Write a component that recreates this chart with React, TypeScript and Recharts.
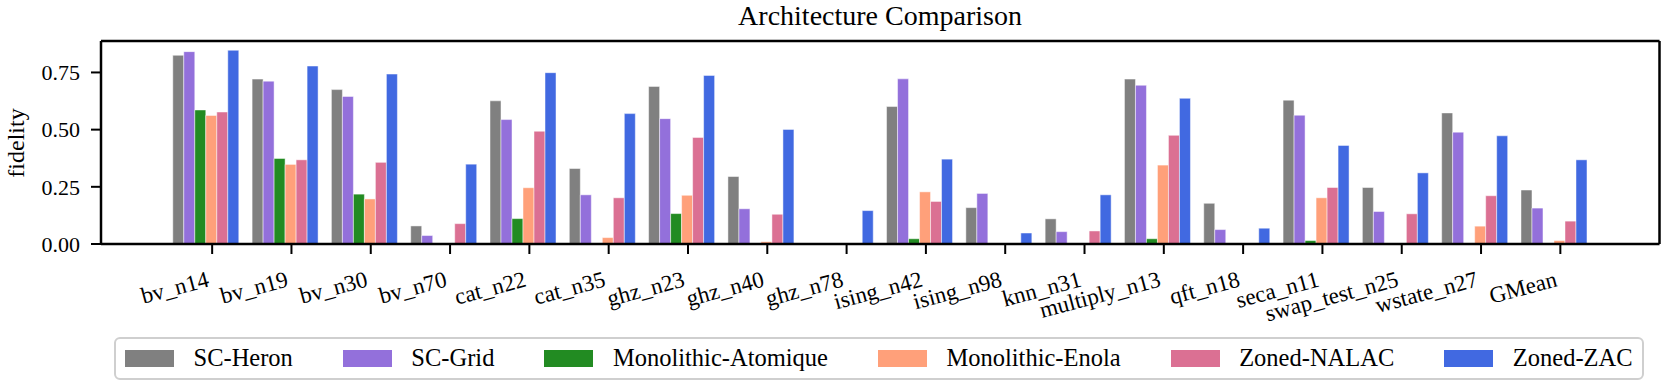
import { BarChart, Bar, XAxis, YAxis } from 'recharts';

const FONT = '"Liberation Serif", "DejaVu Serif", serif';

const categories = [
  'bv_n14', 'bv_n19', 'bv_n30', 'bv_n70', 'cat_n22', 'cat_n35', 'ghz_n23', 'ghz_n40', 'ghz_n78',
  'ising_n42', 'ising_n98', 'knn_n31', 'multiply_n13', 'qft_n18', 'seca_n11', 'swap_test_n25',
  'wstate_n27', 'GMean',
];

const scHeron = [0.825, 0.721, 0.675, 0.079, 0.626, 0.330, 0.689, 0.295, 0, 0.601, 0.159, 0.110, 0.721, 0.178, 0.629, 0.247, 0.573, 0.236];
const scGrid = [0.841, 0.712, 0.645, 0.037, 0.544, 0.215, 0.548, 0.154, 0, 0.722, 0.221, 0.054, 0.694, 0.063, 0.563, 0.142, 0.489, 0.157];
const monoAtomique = [0.586, 0.374, 0.218, 0, 0.111, 0, 0.133, 0, 0, 0.023, 0, 0, 0.023, 0, 0.015, 0, 0, 0];
const monoEnola = [0.562, 0.348, 0.197, 0, 0.246, 0.028, 0.213, 0.010, 0, 0.228, 0, 0, 0.345, 0, 0.202, 0.004, 0.078, 0.015];
const zonedNalac = [0.577, 0.368, 0.357, 0.089, 0.493, 0.202, 0.466, 0.130, 0, 0.186, 0, 0.057, 0.475, 0, 0.247, 0.132, 0.211, 0.100];
const zonedZac = [0.847, 0.778, 0.743, 0.349, 0.749, 0.570, 0.737, 0.501, 0.146, 0.371, 0.048, 0.215, 0.637, 0.069, 0.431, 0.311, 0.473, 0.368];

const seriesNames = ['SC-Heron', 'SC-Grid', 'Monolithic-Atomique', 'Monolithic-Enola', 'Zoned-NALAC', 'Zoned-ZAC'];
const seriesColors = ['#808080', '#9370DB', '#228B22', '#FFA07A', '#DB7093', '#4169E1'];
const seriesValues = [scHeron, scGrid, monoAtomique, monoEnola, zonedNalac, zonedZac];

const yTicks = [0, 0.25, 0.5, 0.75];

const chartData = categories.map((name, i) => {
  const row: Record<string, string | number> = { name };
  seriesNames.forEach((s, k) => {
    row[s] = seriesValues[k][i];
  });
  return row;
});

// ticks sit on the 4th bar of each group, not the group centre
function CircuitTick(props: any) {
  const { x, y, payload } = props;
  const tx = x + 5.5;
  const lx = tx - 2;
  const ly = y + 42;
  return (
    <g>
      <line x1={tx} x2={tx} y1={y} y2={y + 10} stroke="#000" strokeWidth={2} />
      <text
        x={lx}
        y={ly}
        textAnchor="end"
        transform={`rotate(-15, ${lx}, ${ly})`}
        fontFamily={FONT}
        fontSize={23}
        fill="#000"
      >
        {payload.value}
      </text>
    </g>
  );
}

export default function App() {
  const spine = { stroke: '#000', strokeWidth: 2.5 };
  return (
    <div style={{ position: 'absolute', left: 0, top: 0, width: 1662, height: 385, background: '#fff' }}>
      <BarChart
        width={1662}
        height={385}
        data={chartData}
        margin={{ top: 41, right: 2.5, left: 0, bottom: 81 }}
        barCategoryGap="7.3%"
        barGap={0}
      >
        <XAxis
          dataKey="name"
          height={60}
          interval={0}
          padding={{ left: 66, right: 65 }}
          axisLine={spine}
          tickLine={false}
          tickSize={0}
          tickMargin={0}
          tick={<CircuitTick />}
        />
        <XAxis
          xAxisId="top"
          dataKey="name"
          orientation="top"
          height={1}
          interval={0}
          padding={{ left: 66, right: 65 }}
          axisLine={spine}
          tick={false}
          tickLine={false}
          mirror
        />
        <YAxis
          width={101}
          domain={[0, 0.8875]}
          ticks={yTicks}
          allowDataOverflow
          axisLine={spine}
          tickLine={{ stroke: '#000', strokeWidth: 2 }}
          tickSize={10}
          tickMargin={11}
          tick={{ fill: '#000', fontSize: 22, fontFamily: FONT }}
          tickFormatter={(v: number) => v.toFixed(2)}
        />
        <YAxis
          yAxisId="right"
          orientation="right"
          width={1}
          domain={[0, 0.8875]}
          axisLine={spine}
          tick={false}
          tickLine={false}
          mirror
        />
        {seriesNames.map((s, k) => (
          <Bar
            key={s}
            dataKey={s}
            fill={seriesColors[k]}
            stroke="#ffffff"
            strokeWidth={0.8}
            strokeOpacity={0.6}
            isAnimationActive={false}
          />
        ))}
      </BarChart>

      <svg width={1662} height={385} style={{ position: 'absolute', left: 0, top: 0, pointerEvents: 'none' }}>
        <text x={880} y={25} textAnchor="middle" fontFamily={FONT} fontSize={28} fill="#000">
          Architecture Comparison
        </text>
        <text
          x={16}
          y={143}
          textAnchor="middle"
          dominantBaseline="central"
          transform="rotate(-90, 16, 143)"
          fontFamily={FONT}
          fontSize={24}
          fill="#000"
        >
          fidelity
        </text>
      </svg>

      <div
        style={{
          position: 'absolute',
          left: 114,
          top: 337,
          height: 43,
          boxSizing: 'border-box',
          border: '2px solid #cfcfcf',
          borderRadius: 6,
          display: 'flex',
          alignItems: 'center',
          padding: '0 9px',
          fontFamily: FONT,
          fontSize: 24.5,
          background: '#fff',
          whiteSpace: 'nowrap',
        }}
      >
        {seriesNames.map((s, k) => (
          <div key={s} style={{ display: 'flex', alignItems: 'center', marginLeft: k ? 50 : 0 }}>
            <span style={{ display: 'inline-block', width: 49, height: 17, background: seriesColors[k], marginRight: 19.5 }} />
            <span style={{ lineHeight: 1 }}>{s}</span>
          </div>
        ))}
      </div>
    </div>
  );
}
